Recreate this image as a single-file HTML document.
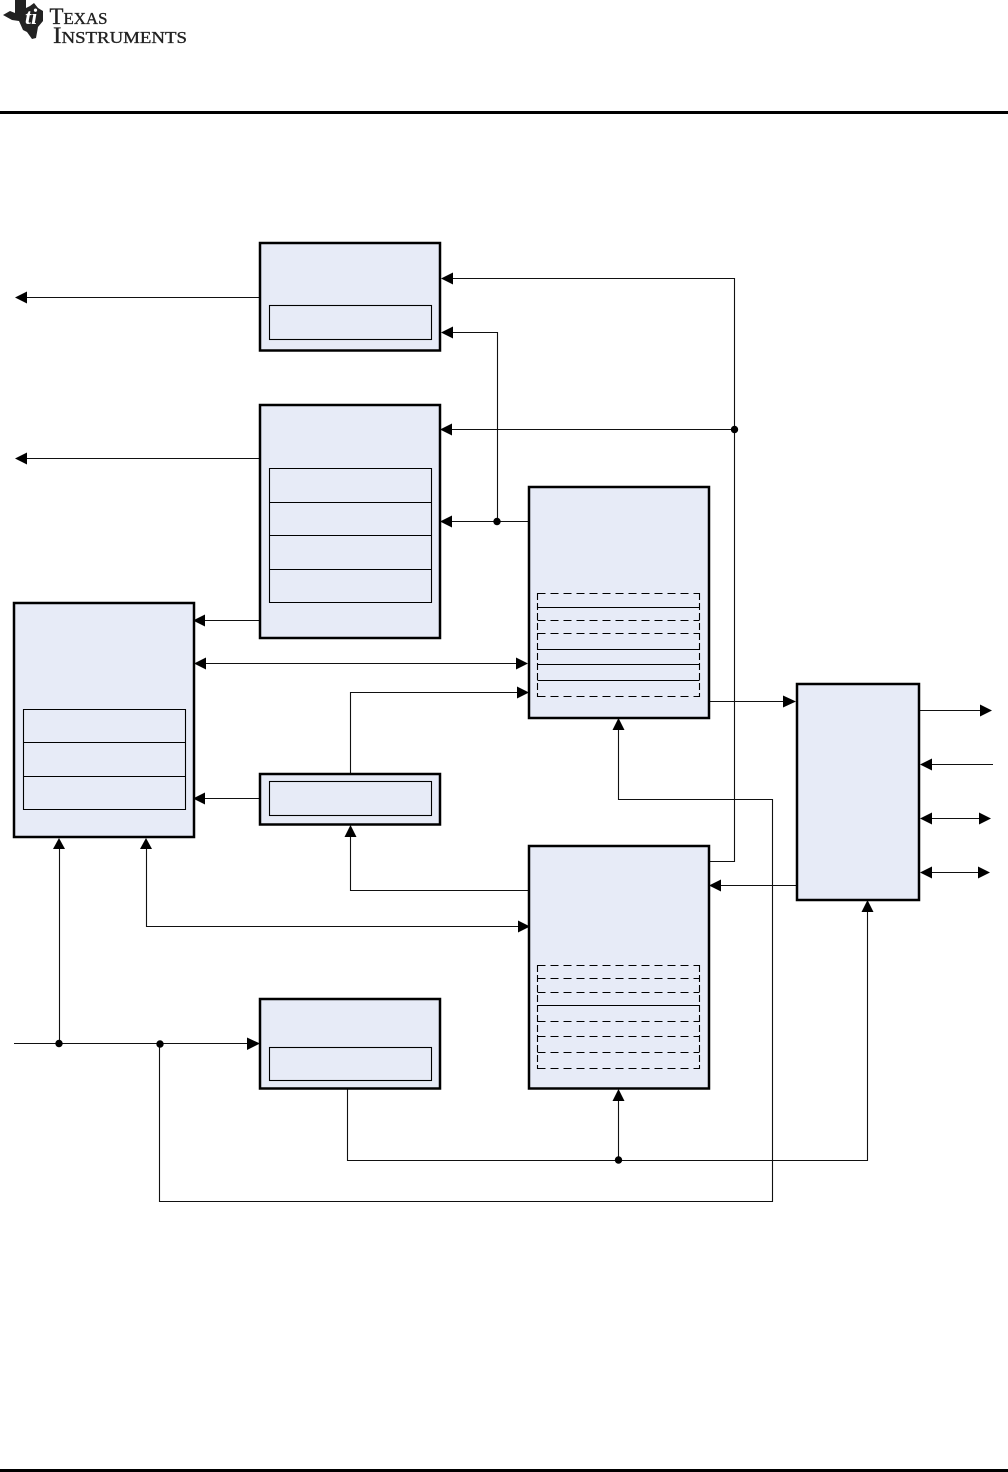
<!DOCTYPE html>
<html><head><meta charset="utf-8">
<style>
html,body{margin:0;padding:0;background:#fff;width:1008px;height:1472px;overflow:hidden}
svg{display:block}
.b{fill:#e7ebf7;stroke:#000;stroke-width:2.5}
.i{fill:none;stroke:#000;stroke-width:1.1}
.l{fill:none;stroke:#111;stroke-width:1.1}
.d{fill:none;stroke:#000;stroke-width:1.1;stroke-dasharray:8 5}
.s{stroke:#000;stroke-width:1.1;fill:none}
.a{fill:#000}
</style></head><body>
<svg width="1008" height="1472" viewBox="0 0 1008 1472" xmlns="http://www.w3.org/2000/svg">
<!-- logo -->
<path fill="#222" d="M15 0 L26 0 L26 8 L30 6 L34 3 L38 8 L43 11 L43 21 L38 27 L36 38 L32 39 L27 32 L23 30 L19 21 L12 20 L3 15 L10 11 L15 13 Z"/>
<text x="25" y="24" font-family="Liberation Serif,serif" font-style="italic" font-weight="bold" font-size="22" fill="#fff">ti</text>
<text x="49.500" y="24" font-family="Liberation Serif,serif" font-size="23" fill="#222" stroke="#222" stroke-width="0.35" textLength="58" lengthAdjust="spacingAndGlyphs">T<tspan font-size="17">EXAS</tspan></text>
<text x="53" y="43" font-family="Liberation Serif,serif" font-size="23" fill="#222" stroke="#222" stroke-width="0.35" textLength="134" lengthAdjust="spacingAndGlyphs">I<tspan font-size="17">NSTRUMENTS</tspan></text>
<rect x="0" y="111" width="1008" height="3" fill="#000"/>
<rect x="0" y="1469" width="1008" height="3" fill="#000"/>

<!-- connectors -->
<path class="l" d="M24 297.500H260 M24 458.500H260"/>
<path class="l" d="M452 278.500H734.500V861.500H709"/>
<path class="l" d="M452 332.500H497.500V521"/>
<path class="l" d="M451 429.500H734"/>
<path class="l" d="M451 521.500H529"/>
<path class="l" d="M204 620.500H260"/>
<path class="l" d="M205 663.500H517"/>
<path class="l" d="M350.500 774V692.500H518"/>
<path class="l" d="M203 798.500H260"/>
<path class="l" d="M350.500 836V890.500H529"/>
<path class="l" d="M146.500 848V926.500H518"/>
<path class="l" d="M59.500 848V1043"/>
<path class="l" d="M14 1043.500H248"/>
<path class="l" d="M159.500 1043V1201.500H772.500V799.500H618.500V729"/>
<path class="l" d="M347.500 1089V1160.500H867.500V911"/>
<path class="l" d="M618.500 1100V1160"/>
<path class="l" d="M709 701.500H785"/>
<path class="l" d="M720 885.500H799"/>
<path class="l" d="M919 710.500H981"/>
<path class="l" d="M930 764.500H993"/>
<path class="l" d="M930 818.500H981"/>
<path class="l" d="M930 872.500H980"/>

<!-- boxes -->
<rect class="b" x="260" y="243" width="180" height="107.500"/>
<rect class="i" x="269.500" y="305.500" width="162" height="34"/>
<rect class="b" x="260" y="405" width="180" height="233"/>
<path class="i" d="M269.500 468.500H431.500V602.500H269.500Z M269.500 502.500H431.500 M269.500 535.500H431.500 M269.500 569.500H431.500"/>
<rect class="b" x="14" y="603" width="180" height="234"/>
<path class="i" d="M23.500 709.500H185.500V809.500H23.500Z M23.500 742.500H185.500 M23.500 776.500H185.500"/>
<rect class="b" x="260" y="774" width="180" height="50.500"/>
<rect class="i" x="269.500" y="781.500" width="162" height="34"/>
<rect class="b" x="260" y="999" width="180" height="89.500"/>
<rect class="i" x="269.500" y="1047.500" width="162" height="33"/>
<rect class="b" x="529" y="487" width="180" height="231"/>
<rect class="b" x="529" y="846" width="180" height="242.500"/>
<rect class="b" x="797" y="684" width="122" height="216"/>

<!-- dashed register stacks -->
<path class="d" d="M537.500 593.500H699.500 M537.500 620.500H699.500 M537.500 633.500H699.500 M537.500 696.500H699.500"/>
<path class="s" d="M537.500 607.500H699.500 M537.500 649.500H699.500 M537.500 664.500H699.500 M537.500 680.500H699.500"/>
<path class="d" style="stroke-dasharray:7 3" d="M537.500 593V697 M699.500 593V697"/>
<path class="d" d="M537.500 965.500H699.500 M537.500 978.500H699.500 M537.500 992.500H699.500 M537.500 1021.500H699.500 M537.500 1036.500H699.500 M537.500 1052.500H699.500 M537.500 1068.500H699.500"/>
<path class="s" d="M537.500 1005.500H699.500"/>
<path class="d" style="stroke-dasharray:7 3" d="M537.500 965V1069 M699.500 965V1069"/>

<!-- arrowheads -->
<g class="a">
<path d="M15 297.500L27 291.500V303.500Z"/>
<path d="M15 458.500L27 452.500V464.500Z"/>
<path d="M441 278.500L453 272.500V284.500Z"/>
<path d="M441 332.500L453 326.500V338.500Z"/>
<path d="M440 429.500L452 423.500V435.500Z"/>
<path d="M440 521.500L452 515.500V527.500Z"/>
<path d="M193 620.500L205 614.500V626.500Z"/>
<path d="M194 663.500L206 657.500V669.500Z"/>
<path d="M528 663.500L516 657.500V669.500Z"/>
<path d="M529 692.500L517 686.500V698.500Z"/>
<path d="M193 798.500L205 792.500V804.500Z"/>
<path d="M796 701.500L783 695.500V707.500Z"/>
<path d="M709 885.500L721 879.500V891.500Z"/>
<path d="M992 710.500L980 704.500V716.500Z"/>
<path d="M920 764.500L932 758.500V770.500Z"/>
<path d="M920 818.500L932 812.500V824.500Z"/>
<path d="M991 818.500L979 812.500V824.500Z"/>
<path d="M920 872.500L932 866.500V878.500Z"/>
<path d="M990 872.500L978 866.500V878.500Z"/>
<path d="M530 926.500L518 920.500V932.500Z"/>
<path d="M260 1043.500L247 1037.500V1050Z"/>
<path d="M59 838L53 849H65Z"/>
<path d="M146 838L140 849H152Z"/>
<path d="M350.500 825L344.500 837H356.500Z"/>
<path d="M618.500 718L612.500 730H624.500Z"/>
<path d="M618.500 1089L612.500 1101H624.500Z"/>
<path d="M867.500 900L861.500 912H873.500Z"/>
<circle cx="734.500" cy="429.500" r="3.700"/>
<circle cx="497" cy="521.500" r="3.700"/>
<circle cx="59" cy="1043.500" r="3.700"/>
<circle cx="160" cy="1044" r="3.700"/>
<circle cx="618.500" cy="1160" r="3.700"/>
</g>
</svg>
</body></html>
